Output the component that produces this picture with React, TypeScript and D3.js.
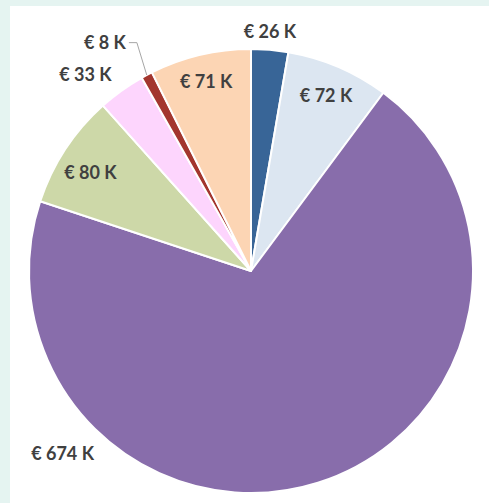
import React, { useEffect, useRef } from 'react';
import * as d3 from 'd3';

// slices, clockwise from 12 o'clock
const categories = ['A', 'B', 'C', 'D', 'E', 'F', 'G'];
const values = [26, 72, 674, 80, 33, 8, 71];
const labels = ['€ 26 K', '€ 72 K', '€ 674 K', '€ 80 K', '€ 33 K', '€ 8 K', '€ 71 K'];
const colors = ['#386597', '#dce6f1', '#886dab', '#cdd8a8', '#fdd5fd', '#a3362e', '#fcd5b4'];

// label placement: radius as share of pie radius, optional angle (deg from top)
const labelPos = [
  { r: 1.085, a: 4.5 },
  { r: 0.86, a: null },
  { r: 1.18, a: 226 },
  { r: 0.85, a: 301.7 },
  { r: 1.16, a: 320 },
  { r: 1.225, a: 327.5 },
  { r: 0.88, a: null },
];

const W = 489;
const H = 503;

export default function App() {
  const ref = useRef<SVGSVGElement>(null);

  useEffect(() => {
    const svg = d3.select(ref.current);
    svg.selectAll('*').remove();

    svg.append('rect').attr('width', W).attr('height', H).attr('fill', '#e5f4f1');
    svg.append('rect').attr('x', 10).attr('y', 6).attr('width', W - 10).attr('height', H - 6).attr('fill', '#fff');

    const cx = 251, cy = 271, R = 222;
    const g = svg.append('g').attr('transform', `translate(${cx},${cy})`);

    const pie = d3.pie<number>().sort(null).value((d) => d);
    const arcs = pie(values);
    const arc = d3.arc<d3.PieArcDatum<number>>().innerRadius(0).outerRadius(R);

    g.selectAll('path.slice')
      .data(arcs)
      .enter()
      .append('path')
      .attr('class', 'slice')
      .attr('d', arc)
      .attr('fill', (d, i) => colors[i])
      .attr('stroke', '#fff')
      .attr('stroke-width', 2)
      .attr('stroke-linejoin', 'round');

    const pos = (d: d3.PieArcDatum<number>, i: number) => {
      const p = labelPos[i];
      const ang = p.a != null ? (p.a * Math.PI) / 180 : (d.startAngle + d.endAngle) / 2;
      return [Math.sin(ang) * R * p.r, -Math.cos(ang) * R * p.r];
    };

    // leader line for the tiny slice
    const small = arcs[5];
    const mid = (small.startAngle + small.endAngle) / 2;
    const [lx, ly] = pos(small, 5);
    const edge = [Math.sin(mid) * R, -Math.cos(mid) * R];
    g.append('path')
      .attr('d', `M${lx + 24},${ly + 1}H${lx + 32}L${edge[0]},${edge[1]}`)
      .attr('fill', 'none')
      .attr('stroke', '#a6a6a6')
      .attr('stroke-width', 1);

    g.selectAll('text.lbl')
      .data(arcs)
      .enter()
      .append('text')
      .attr('class', 'lbl')
      .attr('x', (d, i) => pos(d, i)[0])
      .attr('y', (d, i) => pos(d, i)[1])
      .attr('text-anchor', 'middle')
      .attr('dominant-baseline', 'central')
      .attr('font-family', 'Lato, "Open Sans", sans-serif')
      .attr('font-weight', 'bold')
      .attr('font-size', 18)
      .attr('fill', '#404040')
      .text((d, i) => labels[i]);
  }, []);

  return (
    <div style={{ position: 'absolute', left: 0, top: 0 }}>
      <svg ref={ref} width={W} height={H} style={{ display: 'block' }} data-cats={categories.join(',')} />
    </div>
  );
}
